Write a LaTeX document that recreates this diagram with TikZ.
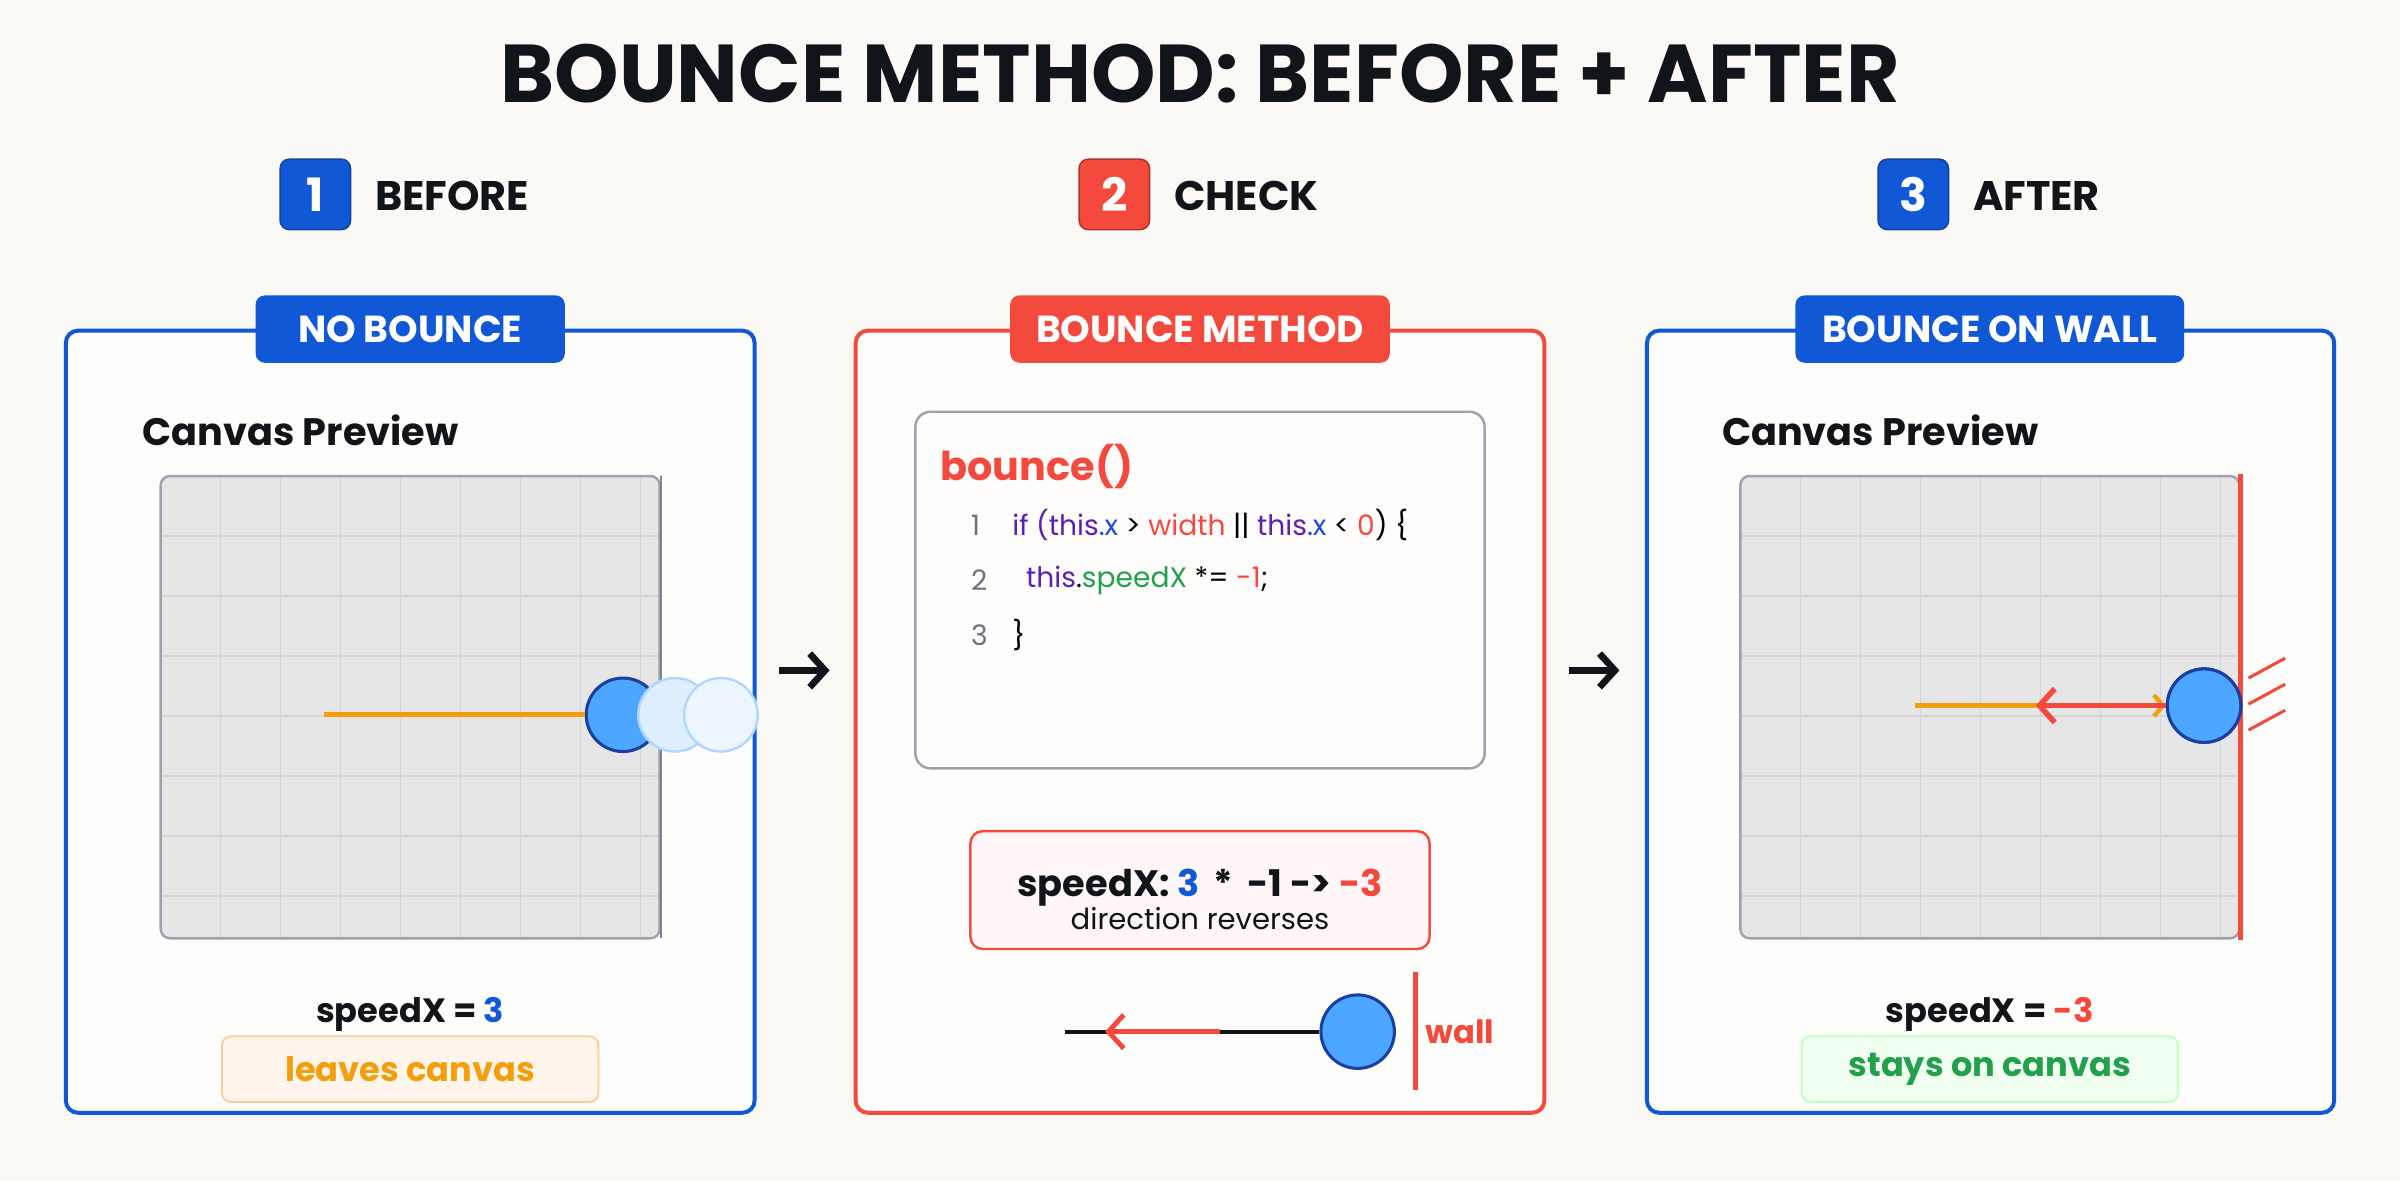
\documentclass[tikz,border=0pt]{standalone}
\usepackage{fontspec}
\setmainfont{Poppins}
\usetikzlibrary{arrows.meta}
\definecolor{bg}{HTML}{FAF9F6}
\definecolor{pblue}{HTML}{1158D6}
\definecolor{pred}{HTML}{F44A3E}
\definecolor{ink}{HTML}{111418}
\definecolor{cgray}{HTML}{E6E6E7}
\definecolor{cedge}{HTML}{9CA3AF}
\definecolor{gline}{HTML}{D3D5D9}
\definecolor{ballf}{HTML}{4DA6FF}
\definecolor{balld}{HTML}{1A3FA0}
\definecolor{orng}{HTML}{F59E0B}
\definecolor{purp}{HTML}{5B21B6}
\definecolor{cblue}{HTML}{1D4ED8}
\definecolor{cgreen}{HTML}{22A04B}
\definecolor{lnum}{HTML}{6B7280}
\begin{document}
\begin{tikzpicture}[x=0.5pt,y=-0.5pt,
  panel/.style={line width=1.3pt,rounded corners=4pt,fill=white!60!bg},
  tab/.style={rounded corners=3pt,text=white,font=\bfseries\fontsize{12.3}{14}\selectfont,inner sep=0pt,minimum height=22pt},
  badge/.style={rounded corners=3pt,draw=balld,line width=0.5pt,text=white,font=\bfseries\fontsize{15}{17}\selectfont,minimum size=23pt,inner sep=0pt},
  steplab/.style={anchor=west,text=ink,font=\bfseries\fontsize{13.5}{15}\selectfont},
  head/.style={anchor=west,text=ink,font=\bfseries\fontsize{12.5}{14}\selectfont},
  ball/.style={circle,fill=ballf,draw=balld,line width=1pt,minimum size=24pt,inner sep=0pt},
  code/.style={anchor=west,font=\fontsize{9.2}{11}\selectfont,inner sep=0pt},
  lab/.style={font=\bfseries\fontsize{11}{13}\selectfont},
  bigarrow/.style={-{Straight Barb[length=5pt,width=11pt]},line width=2.2pt,ink}]
\fill[bg] (0,0) rectangle (1568,771);
\useasboundingbox (0,0) rectangle (1568,771);
\node[text=ink,font=\bfseries\fontsize{26.8}{30}\selectfont] (title) at (784,48) {BOUNCE METHOD: BEFORE + AFTER};
% steps
\node[badge,fill=pblue] (b1) at (206,127) {1};
\node[steplab] (s1) at (238,128) {BEFORE};
\node[badge,fill=pred,draw=pred!70!black] (b2) at (728,127) {2};
\node[steplab] (s2) at (760,128) {CHECK};
\node[badge,fill=pblue] (b3) at (1250,127) {3};
\node[steplab] (s3) at (1282,128) {AFTER};
% panels
\draw[panel,draw=pblue] (43,216) rectangle (493,727);
\draw[panel,draw=pred] (559,216) rectangle (1009,727);
\draw[panel,draw=pblue] (1076,216) rectangle (1525,727);
\node[tab,fill=pblue,minimum width=101pt] (t1) at (268,215) {NO BOUNCE};
\node[tab,fill=pred,minimum width=124pt] (t2) at (784,215) {BOUNCE METHOD};
\node[tab,fill=pblue,minimum width=127pt] (t3) at (1300,215) {BOUNCE ON WALL};
% arrows between panels
\coordinate (a1s) at (509,438); \coordinate (a1e) at (542,438);
\coordinate (a2s) at (1025,438); \coordinate (a2e) at (1058,438);
\draw[bigarrow] (a1s) -- (a1e);
\draw[bigarrow] (a2s) -- (a2e);
% ---- panel 1 canvas
\node[head] (cp1) at (86,281) {Canvas Preview};
\fill[cgray,rounded corners=3pt] (105,311) rectangle (431,613);
\foreach \i in {1,...,8} \draw[gline,line width=0.5pt] (105+39.2*\i,311) -- (105+39.2*\i,613);
\foreach \j in {1,...,7} \draw[gline,line width=0.5pt] (105,311+39.2*\j) -- (431,311+39.2*\j);
\draw[cedge,line width=0.8pt,rounded corners=3pt] (105,311) rectangle (431,613);
\draw[cedge!80!black,line width=0.8pt] (432,311) -- (432,613);
\coordinate (o1) at (212,467);
\node[ball] (ball1) at (407,467) {};
\draw[orng,line width=1.6pt] (o1) -- (ball1.west);
\node[ball,fill=white!82!ballf,draw=white!55!ballf,line width=0.8pt] (g1) at (441,467) {};
\node[ball,fill=white!90!ballf,draw=white!55!ballf,line width=0.8pt] (g2) at (471,467) {};
\node[lab,text=ink] (sp1) at (268,663) {speedX = \textcolor{pblue}{3}};
\node[lab,text=orng,fill=orange!8!white,draw=orange!40!white,line width=0.6pt,rounded corners=3pt,minimum width=123pt,minimum height=21.5pt] (lv) at (268,698.5) {leaves canvas};
% ---- panel 2
\draw[cedge,line width=0.8pt,rounded corners=5pt,fill=white!70!bg] (598,269) rectangle (970,502);
\node[anchor=west,text=pred,font=\bfseries\fontsize{13}{15}\selectfont,inner sep=0pt] (fn) at (614,305) {bounce()};
\node[code,text=lnum] (n1) at (634,343) {1};
\node[code,text=lnum] (n2) at (634,379) {2};
\node[code,text=lnum] (n3) at (634,415) {3};
\node[code] (c1) at (661,343) {\textcolor{purp}{if (this}\textcolor{cblue}{.x} > \textcolor{pred}{width} || \textcolor{purp}{this}\textcolor{cblue}{.x} < \textcolor{pred}{0}) \{};
\node[code] (c2) at (670,379) {\textcolor{purp}{this}.\textcolor{cgreen}{speedX} *= \textcolor{pred}{-1};};
\node[code] (c3) at (661,415) {\}};
\draw[pred,line width=0.8pt,rounded corners=4pt,fill=red!3!white] (634,543) rectangle (934,620);
\node[text=ink,font=\bfseries\fontsize{12}{14}\selectfont] (eq) at (784,580) {speedX: \textcolor{pblue}{3} \,*\, -1 -> \textcolor{pred}{-3}};
\node[text=ink,font=\fontsize{9.5}{11}\selectfont] (dr) at (784,600) {direction reverses};
\coordinate (l0) at (696,674);
\coordinate (r0) at (722,674); \coordinate (r1) at (797,674);
\node[ball,draw=balld] (ball2) at (887,674) {};
\draw[ink,line width=1.4pt] (l0) -- (ball2.west);
\draw[pred,line width=1.6pt,-{Straight Barb[length=5pt,width=11pt]}] (r1) -- (r0);
\coordinate (w0) at (925,635); \coordinate (w1) at (925,712);
\draw[pred,line width=1.6pt] (w0) -- (w1);
\node[anchor=west,text=pred,font=\bfseries\fontsize{10.5}{12}\selectfont,inner sep=0pt] (wl) at (931,674) {wall};
% ---- panel 3 canvas
\node[head] (cp3) at (1118,281) {Canvas Preview};
\fill[cgray,rounded corners=3pt] (1137,311) rectangle (1463,613);
\foreach \i in {1,...,8} \draw[gline,line width=0.5pt] (1137+39.2*\i,311) -- (1137+39.2*\i,613);
\foreach \j in {1,...,7} \draw[gline,line width=0.5pt] (1137,311+39.2*\j) -- (1463,311+39.2*\j);
\draw[cedge,line width=0.8pt,rounded corners=3pt] (1137,311) rectangle (1463,613);
\coordinate (wa) at (1464,310); \coordinate (wb) at (1464,614);
\draw[pred,line width=1.6pt] (wa) -- (wb);
\coordinate (o3) at (1251,461);
\node[ball] (ball3) at (1440,461) {};
\draw[orng,line width=1.4pt,-{Straight Barb[length=3pt,width=7pt]}] (o3) -- (ball3.west);
\coordinate (r3a) at (1437,461); \coordinate (r3b) at (1330,461);
\draw[pred,line width=1.8pt,-{Straight Barb[length=5pt,width=11pt]}] (r3a) -- (r3b);
\node[ball] (ball3b) at (1440,461) {};
\foreach \d in {0,17,34} \draw[pred,line width=1pt] (1469,443+\d) -- (1493,430+\d);
\node[lab,text=ink] (sp3) at (1300,663) {speedX = \textcolor{pred}{-3}};
\node[lab,text=cgreen,fill=green!6!white,draw=green!25!white,line width=0.6pt,rounded corners=3pt,minimum width=123pt,minimum height=21.5pt] (st) at (1300,698.5) {stays on canvas};
\end{tikzpicture}
\end{document}
